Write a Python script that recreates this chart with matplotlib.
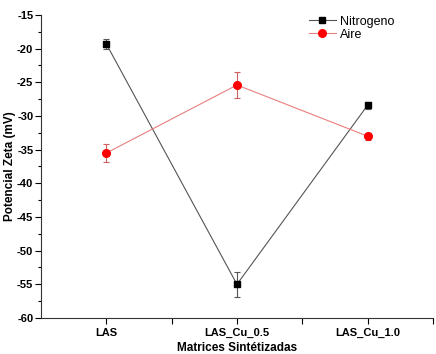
import matplotlib
matplotlib.use('Agg')
import matplotlib.pyplot as plt
from matplotlib.ticker import MultipleLocator

categories = ['LAS', 'LAS_Cu_0.5', 'LAS_Cu_1.0']
nitrogeno = [-19.3, -55.0, -28.4]
nitrogeno_err = [0.8, 1.9, 0.5]
aire = [-35.5, -25.4, -33.0]
aire_err = [1.3, 2.0, 0.5]

plt.rcParams['font.family'] = ['Liberation Sans', 'DejaVu Sans']
plt.rcParams['axes.unicode_minus'] = False

fig = plt.figure(figsize=(4.36, 3.54), dpi=100)
ax = fig.add_axes([0.094, 0.1017, 0.899, 0.856])

x = list(range(1, len(categories) + 1))
# error bars first, then lines with markers (for clean legend handles)
ax.errorbar(x, nitrogeno, yerr=nitrogeno_err, fmt='none', ecolor='#555555',
            elinewidth=0.8, capsize=2.5, capthick=0.8)
ax.errorbar(x, aire, yerr=aire_err, fmt='none', ecolor='#d06060',
            elinewidth=0.8, capsize=2.5, capthick=0.8)
ax.plot(x, nitrogeno, color='#555555', lw=0.8, marker='s', ms=5,
        mfc='black', mec='black', label='Nitrogeno')
ax.plot(x, aire, color='#e88080', lw=0.8, marker='o', ms=5.5,
        mfc='red', mec='red', label='Aire')

ax.set_xlim(0.5, 3.5)
ax.set_ylim(-60, -15)
ax.set_xticks(x)
ax.set_xticklabels(categories, fontweight='bold', fontsize=8)
ax.set_xticks([1.5, 2.5, 3.5], minor=True)
ax.yaxis.set_major_locator(MultipleLocator(5))
ax.yaxis.set_minor_locator(MultipleLocator(2.5))
for lab in ax.get_yticklabels():
    lab.set_fontweight('bold')
    lab.set_fontsize(8)
ax.tick_params(which='major', direction='out', length=4, width=0.8, pad=1.5)
ax.tick_params(which='minor', direction='out', length=2.5, width=0.8)
ax.tick_params(axis='x', which='minor', length=4)
ax.tick_params(axis='x', pad=3)

for side in ['top', 'right']:
    ax.spines[side].set_visible(False)
for side in ['left', 'bottom']:
    ax.spines[side].set_color('#333333')
    ax.spines[side].set_linewidth(0.8)

ax.set_ylabel('Potencial Zeta (mV)', fontweight='bold', fontsize=8.5, labelpad=1)
ax.set_xlabel('Matrices Sintétizadas', fontweight='bold', fontsize=8.5, labelpad=3)

ax.legend(loc='upper right', bbox_to_anchor=(0.93, 1.035), frameon=False,
          fontsize=9, handlelength=2.2, handletextpad=0.3, labelspacing=0.1)

fig.savefig('out.png', dpi=100)
